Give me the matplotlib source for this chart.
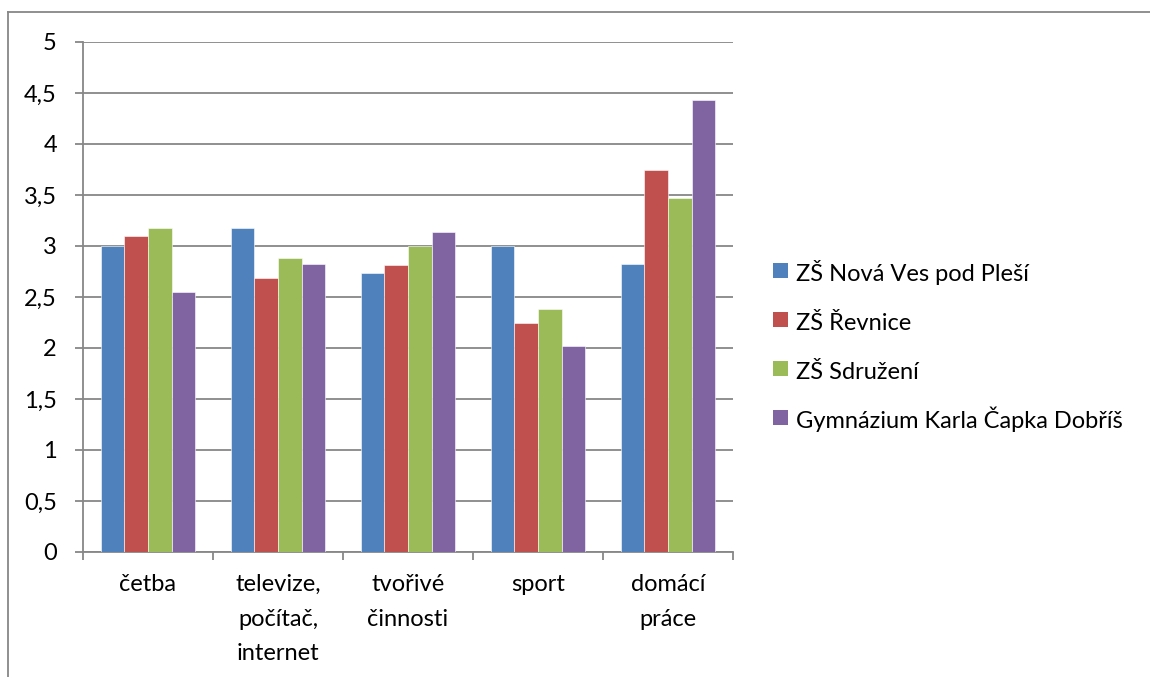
import matplotlib
matplotlib.use('Agg')
from matplotlib import pyplot as plt
from matplotlib.lines import Line2D
import numpy as np

plt.rcParams['font.family'] = ['Lato', 'DejaVu Sans']

# data
categories = ['četba', 'televize,\npočítač,\ninternet', 'tvořivé\nčinnosti', 'sport', 'domácí\npráce']
schools = ['ZŠ Nová Ves pod Pleší', 'ZŠ Řevnice', 'ZŠ Sdružení', 'Gymnázium Karla Čapka Dobříš']
nova_ves = [3.00, 3.18, 2.74, 3.00, 2.82]
revnice = [3.10, 2.69, 2.81, 2.25, 3.75]
sdruzeni = [3.18, 2.88, 3.00, 2.38, 3.47]
gymnazium = [2.55, 2.82, 3.14, 2.02, 4.43]
colors = ['#4F81BD', '#C0504D', '#9BBB59', '#8064A2']

series = [nova_ves, revnice, sdruzeni, gymnazium]
grey = '#878787'
fs = 17

fig = plt.figure(figsize=(11.5, 6.77), dpi=100)
ax = fig.add_axes([83 / 1150, 1 - 552 / 677, 650 / 1150, 510 / 677])

x = np.arange(len(categories))
w = 0.181
for i, (vals, c, name) in enumerate(zip(series, colors, schools)):
    ax.bar(x + (i - 1.5) * w, vals, w, color=c, label=name,
           edgecolor='white', linewidth=0.4, zorder=3)

ax.set_xlim(-0.5, len(categories) - 0.5)
ax.set_ylim(0, 5)
yt = np.arange(0, 5.01, 0.5)
ax.set_yticks(yt)
ax.set_yticklabels([('%g' % v).replace('.', ',') for v in yt], fontsize=fs)
ax.yaxis.grid(True, color=grey, linewidth=1.3, zorder=0)

ax.set_xticks(np.arange(-0.5, len(categories), 1))
ax.set_xticklabels([])
ax.set_xticks(x, minor=True)
ax.set_xticklabels(categories, minor=True, fontsize=fs, linespacing=1.8, va='top')
ax.tick_params(axis='x', which='minor', length=0, pad=16)
ax.tick_params(axis='x', which='major', length=5.8, color=grey, width=1.3)
ax.tick_params(axis='y', length=5.8, color=grey, width=1.3, pad=13)

for s in ['top', 'right']:
    ax.spines[s].set_visible(False)
for s in ['left', 'bottom']:
    ax.spines[s].set_color(grey)
    ax.spines[s].set_linewidth(1.3)

# legend with square markers, rows kept evenly spaced
handles = [Line2D([], [], ls='none', marker='s', markersize=10.8, color=c,
                  markeredgewidth=0) for c in colors]
fig.legend(handles, schools, loc='center left', bbox_to_anchor=(772 / 1150, 1 - 347 / 677),
           frameon=False, fontsize=fs, handlelength=0.7, handleheight=1.5,
           handletextpad=0.3, labelspacing=0.86, borderpad=0, borderaxespad=0)

# outer chart-area border (cropped at right and bottom)
fig.add_artist(Line2D([8 / 1150, 8 / 1150], [0, 1 - 11.5 / 677], color=grey, lw=1.3))
fig.add_artist(Line2D([8 / 1150, 1], [1 - 11.5 / 677, 1 - 11.5 / 677], color=grey, lw=1.3))

fig.savefig('out.png', dpi=100)
